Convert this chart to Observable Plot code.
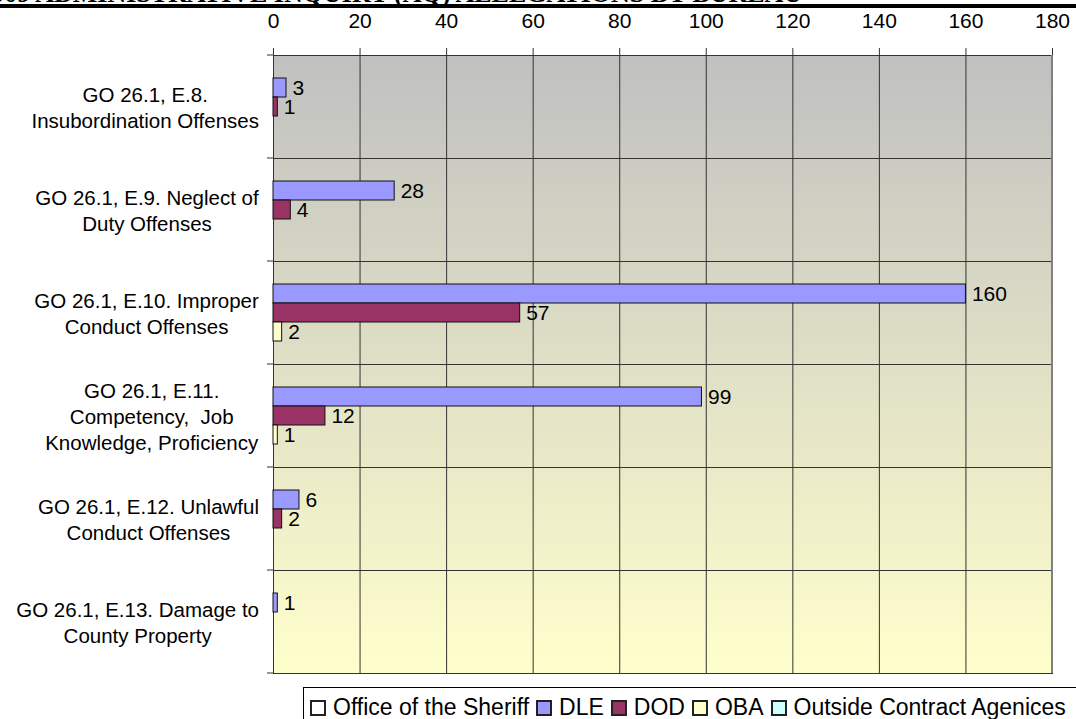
<!DOCTYPE html>
<html>
<head>
<meta charset="utf-8">
<script src="https://cdn.jsdelivr.net/npm/d3@7"></script>
<script src="https://cdn.jsdelivr.net/npm/@observablehq/plot@0.6"></script>
<style>
  html, body { margin: 0; padding: 0; overflow: hidden; background: #fff; width: 1076px; height: 719px; }
  body { font-family: "Liberation Sans", Arial, sans-serif; color: #000; position: relative; }
  #chart { position: absolute; left: 0; top: 0; }
  #title { position: absolute; left: 0; top: 0; width: 1076px; height: 4px; overflow: hidden; z-index: 2; }
  #title span { position: absolute; left: -62px; top: -19px; white-space: nowrap; font: bold 26px/26px "Liberation Serif", "Times New Roman", serif; }
  #titlebar { position: absolute; left: 0; top: 4px; width: 1076px; height: 4px; background: #000; z-index: 2; }
  #legend { position: absolute; left: 303px; top: 687px; width: 900px; height: 40px; border: 1px solid #000; border-right: none; background: #fff; box-sizing: border-box; padding: 3px 0 0 7px; overflow: hidden; }
  #legend .lg-swatch { margin-right: 8px; }
  #legend .lg-swatch > svg { margin-right: 8px; }
  #legend svg rect { stroke: #222; stroke-width: 2; }
</style>
</head>
<body>
<div id="chart"></div>
<div id="title"><span>FY 2009 ADMINISTRATIVE INQUIRY (AQ) ALLEGATIONS BY BUREAU</span></div>
<div id="titlebar"></div>
<div id="legend"></div>
<script>
// ---- data ----
const categories = [
  "GO 26.1, E.8.\nInsubordination Offenses",
  "GO 26.1, E.9. Neglect of\nDuty Offenses",
  "GO 26.1, E.10. Improper\nConduct Offenses",
  "GO 26.1, E.11.\nCompetency,  Job\nKnowledge, Proficiency",
  "GO 26.1, E.12. Unlawful\nConduct Offenses",
  "GO 26.1, E.13. Damage to\nCounty Property"
];
const series = ["Office of the Sheriff", "DLE", "DOD", "OBA", "Outside Contract Agenices"];
const sheriffValues = [0, 0, 0, 0, 0, 0];
const dleValues = [3, 28, 160, 99, 6, 1];
const dodValues = [1, 4, 57, 12, 2, 0];
const obaValues = [0, 0, 2, 1, 0, 0];
const outsideValues = [0, 0, 0, 0, 0, 0];
const seriesColors = ["#FFFFFF", "#9999FF", "#993366", "#FFFFCC", "#CCFFFF"];
const xTicks = [0, 20, 40, 60, 80, 100, 120, 140, 160, 180];

const valuesBySeries = [sheriffValues, dleValues, dodValues, obaValues, outsideValues];
const rows = [];
series.forEach((s, si) => categories.forEach((c, ci) => {
  rows.push({category: c, series: s, value: valuesBySeries[si][ci]});
}));
const shown = rows.filter(d => d.value > 0);

const plot = Plot.plot({
  width: 1076,
  height: 680,
  marginTop: 54,
  marginLeft: 273,
  marginRight: 24,
  marginBottom: 6,
  style: {fontFamily: "'Liberation Sans', Arial, sans-serif", fontSize: "21px", background: "transparent", color: "#000"},
  x: {domain: [0, 180], label: null},
  fy: {domain: categories, padding: 0, label: null},
  y: {domain: series, paddingInner: 0, paddingOuter: 0.15, axis: null},
  color: {domain: series, range: seriesColors},
  marks: [
    Plot.gridX(xTicks, {stroke: "#333", strokeOpacity: 1, strokeWidth: 1}),
    Plot.frame({stroke: "#333", strokeWidth: 1}),
    Plot.axisX({anchor: "top", ticks: xTicks, tickSize: 8, tickPadding: 20, fontSize: 21, label: null, stroke: "#333"}),
    Plot.axisFy({anchor: "left", tickSize: 0, tickPadding: 14, fontSize: 20.5, lineHeight: 1.27, textAnchor: "middle", label: null}),
    Plot.barX(shown, {x: "value", y: "series", fy: "category", fill: "series", stroke: "#111", strokeWidth: 1}),
    Plot.text(shown, {x: "value", y: "series", fy: "category", text: d => String(d.value), textAnchor: "start", dx: 6, fontSize: 21, fill: "#000"})
  ]
});

document.getElementById("chart").append(plot);

// plot-area background gradient and category boundary ticks, positioned via Plot's own scales
const fy = plot.scale("fy");
const xs = plot.scale("x");
const svg = d3.select(plot);
const top0 = fy.apply(categories[0]);
const bottom0 = fy.apply(categories[categories.length - 1]) + fy.bandwidth;
const xa = xs.apply(0), xb = xs.apply(180);
const defs = svg.insert("defs", ":first-child");
const grad = defs.append("linearGradient").attr("id", "bgGrad").attr("x1", 0).attr("y1", 0).attr("x2", 0).attr("y2", 1);
grad.append("stop").attr("offset", "0%").attr("stop-color", "#C0C0C0");
grad.append("stop").attr("offset", "100%").attr("stop-color", "#FFFFCC");
svg.insert("rect", "g").attr("x", xa).attr("y", top0).attr("width", xb - xa).attr("height", bottom0 - top0).attr("fill", "url(#bgGrad)");
svg.append("line").attr("x1", xb).attr("x2", xb).attr("y1", top0).attr("y2", bottom0).attr("stroke", "#808080").attr("stroke-width", 2);
const bounds = categories.map(c => fy.apply(c)).concat([bottom0]);
svg.append("g").selectAll("line").data(bounds).join("line")
  .attr("x1", xa - 6).attr("x2", xa).attr("y1", d => d).attr("y2", d => d).attr("stroke", "#333");

// right-align each wrapped category label block (lines stay centred within it)
const svgRect = plot.getBoundingClientRect();
plot.querySelectorAll('g[aria-label="fy-axis tick label"] text').forEach(t => {
  const r = t.getBoundingClientRect();
  const shift = (xa - 14) - (r.right - svgRect.left);
  t.setAttribute("transform", ((t.getAttribute("transform") || "") + ` translate(${shift},0)`).trim());
});

const legend = plot.legend("color", {legend: "swatches", swatchSize: 14, className: "lg", style: {fontSize: "23px", fontFamily: "'Liberation Sans', Arial, sans-serif", color: "#000", flexWrap: "nowrap"}});
document.getElementById("legend").append(legend);
</script>
</body>
</html>
